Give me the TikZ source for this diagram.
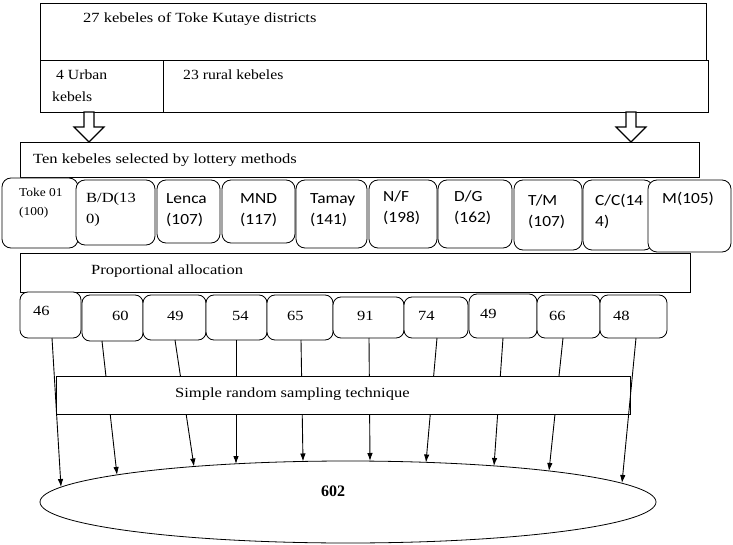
\documentclass[tikz,border=0pt]{standalone}
\usepackage{fontspec}
\setmainfont{Liberation Serif}
\newfontfamily\serifW{Liberation Serif}[FakeStretch=1.18]
\newfontfamily\serifT{Liberation Serif}[FakeStretch=1.12]
\newfontfamily\calibW{Carlito}[FakeStretch=1.12]
\usetikzlibrary{shapes.geometric,arrows.meta}
\begin{document}
\begin{tikzpicture}[x=1pt,y=-1pt,
  box/.style={draw, line width=0.8pt, fill=white, inner sep=0pt, outer sep=0pt},
  rbox/.style={box, rounded corners=9pt},
  nbox/.style={box, rounded corners=8pt},
  tl/.style={anchor=base west, inner sep=0pt, font=\serifT\fontsize{14}{16}\selectfont},
  tm/.style={anchor=base west, inner sep=0pt, font=\serifW\fontsize{14}{16}\selectfont},
  cl/.style={anchor=base west, inner sep=0pt, font=\calibW\fontsize{15.5}{17}\selectfont},
  hollow/.style={draw, line width=1.2pt, fill=white, line join=miter},
  conn/.style={line width=0.9pt, -{Latex[length=8pt,width=5.5pt]}}]
\useasboundingbox (0,0) rectangle (733,545);
% top boxes
\node[box, minimum width=666pt, minimum height=57pt] (top) at (373,31.5) {};
\node[box, minimum width=123pt, minimum height=52pt] (urban) at (101.5,86) {};
\node[box, minimum width=545pt, minimum height=52pt] (rural) at (435.5,86) {};
\node[tm] (ttop) at (83,23) {27 kebeles of Toke Kutaye districts};
\node[tl] (turb1) at (56,80) {4 Urban};
\node[tl] (turb2) at (52,102) {kebels};
\node[tl] (trur) at (183,80) {23 rural kebeles};
% hollow arrows
\draw[hollow] (84,112) -- (94,112) -- (94,127) -- (104,127) -- (89,142) -- (74,127) -- (84,127) -- cycle;
\draw[hollow] (626,112) -- (636,112) -- (636,127) -- (646,127) -- (631,142) -- (616,127) -- (626,127) -- cycle;
% lottery box
\node[box, minimum width=679pt, minimum height=35pt] (ten) at (359.5,159.5) {};
\node[tm] (tten) at (33,164) {Ten kebeles selected by lottery methods};
% kebele boxes
\node[rbox, minimum width=76pt, minimum height=70pt] (k1) at (40,213) {};
\node[rbox, minimum width=79pt, minimum height=65pt] (k2) at (115.5,212.5) {};
\node[rbox, minimum width=63pt, minimum height=63pt] (k3) at (188.5,211.5) {};
\node[rbox, minimum width=73pt, minimum height=63pt] (k4) at (258.5,211.5) {};
\node[rbox, minimum width=71pt, minimum height=68pt] (k5) at (331.5,214) {};
\node[rbox, minimum width=68pt, minimum height=68pt] (k6) at (403,214) {};
\node[rbox, minimum width=74pt, minimum height=68pt] (k7) at (475,214) {};
\node[rbox, minimum width=68pt, minimum height=70pt] (k8) at (548,215) {};
\node[rbox, minimum width=70pt, minimum height=70pt] (k9) at (618,215) {};
\node[rbox, minimum width=83pt, minimum height=72pt] (k10) at (689.5,216) {};
\node[anchor=base west, inner sep=0pt, font=\serifT\fontsize{12}{14}\selectfont] (tk1a) at (19,197) {Toke 01};
\node[anchor=base west, inner sep=0pt, font=\serifT\fontsize{12}{14}\selectfont] (tk1b) at (19,216) {(100)};
\node[tm] (tk2a) at (86,203) {B/D(13};
\node[tm] (tk2b) at (86,224) {0)};
\node[cl] (tk3a) at (166,204) {Lenca};
\node[cl] (tk3b) at (166,225) {(107)};
\node[cl] (tk4a) at (240,204) {MND};
\node[cl] (tk4b) at (240,225) {(117)};
\node[cl] (tk5a) at (310,204) {Tamay};
\node[cl] (tk5b) at (310,225) {(141)};
\node[cl] (tk6a) at (383,202) {N/F};
\node[cl] (tk6b) at (383,223) {(198)};
\node[cl] (tk7a) at (454,202) {D/G};
\node[cl] (tk7b) at (454,223) {(162)};
\node[cl] (tk8a) at (528,206) {T/M};
\node[cl] (tk8b) at (528,227) {(107)};
\node[cl] (tk9a) at (595,206) {C/C(14};
\node[cl] (tk9b) at (595,227) {4)};
\node[cl] (tk10) at (662,204) {M(105)};
% proportional allocation
\node[box, minimum width=670pt, minimum height=39pt] (prop) at (355,272.5) {};
\node[tm] (tprop) at (91,275) {Proportional allocation};
% number boxes
\node[nbox, minimum width=61pt, minimum height=46pt] (n1) at (50.5,315) {};
\node[nbox, minimum width=61pt, minimum height=46pt] (n2) at (112.5,318) {};
\node[nbox, minimum width=63pt, minimum height=45pt] (n3) at (174.5,317.5) {};
\node[nbox, minimum width=61pt, minimum height=45pt] (n4) at (236.5,317.5) {};
\node[nbox, minimum width=66pt, minimum height=45pt] (n5) at (300,317.5) {};
\node[nbox, minimum width=71pt, minimum height=41pt] (n6) at (368.5,317.5) {};
\node[nbox, minimum width=64pt, minimum height=41pt] (n7) at (436,317.5) {};
\node[nbox, minimum width=68pt, minimum height=44pt] (n8) at (503,316) {};
\node[nbox, minimum width=63pt, minimum height=43pt] (n9) at (568.5,316.5) {};
\node[nbox, minimum width=67pt, minimum height=43pt] (n10) at (633.5,316.5) {};
\node[tm] (tn1) at (33,315) {46};
\node[tm] (tn2) at (112,320) {60};
\node[tm] (tn3) at (167,320) {49};
\node[tm] (tn4) at (232,320) {54};
\node[tm] (tn5) at (287,320) {65};
\node[tm] (tn6) at (357,320) {91};
\node[tm] (tn7) at (418,320) {74};
\node[tm] (tn8) at (480,318) {49};
\node[tm] (tn9) at (549,320) {66};
\node[tm] (tn10) at (613,320) {48};
% ellipse
\node[draw, ellipse, line width=0.8pt, inner sep=0pt, outer sep=0pt, minimum width=616pt, minimum height=82pt] (pool) at (348,502) {};
\node[anchor=base, inner sep=0pt, font=\bfseries\fontsize{16}{18}\selectfont] (t602) at (333,496) {602};
% connector end points
\coordinate (s1) at (52,338);  \coordinate (e1) at (61,487);
\coordinate (s2) at (102,341); \coordinate (e2) at (117,475);
\coordinate (s3) at (175,340); \coordinate (e3) at (194,466.5);
\coordinate (s4) at (236,340); \coordinate (e4) at (236,464);
\coordinate (s5) at (301,340); \coordinate (e5) at (303,461.5);
\coordinate (s6) at (369,338); \coordinate (e6) at (370,461);
\coordinate (s7) at (437,338); \coordinate (e7) at (426,462.5);
\coordinate (s8) at (503,338); \coordinate (e8) at (494,466);
\coordinate (s9) at (563,338); \coordinate (e9) at (549,471);
\coordinate (s10) at (636,338); \coordinate (e10) at (622,483);
\foreach \i in {2,...,9} { \draw[conn] (s\i) -- (e\i); }
% simple random sampling box
\node[box, minimum width=574pt, minimum height=38pt] (srs) at (343,395) {};
\node[tm] (tsrs) at (175,397) {Simple random sampling technique};
\draw[conn] (s1) -- (e1);
\draw[conn] (s10) -- (e10);
\end{tikzpicture}
\end{document}
